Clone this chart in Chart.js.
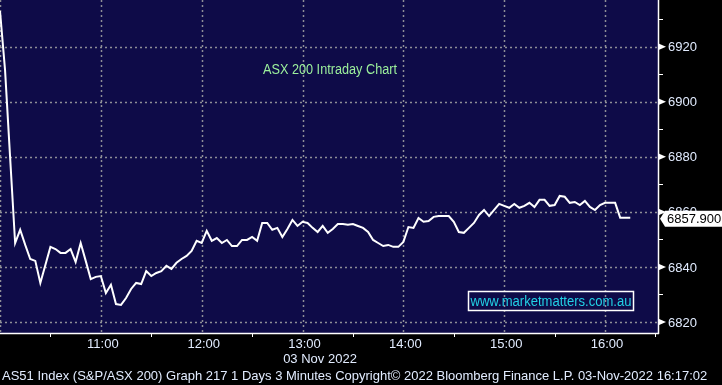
<!DOCTYPE html>
<html>
<head>
<meta charset="utf-8">
<script src="https://cdn.jsdelivr.net/npm/chart.js@4.4.1/dist/chart.umd.min.js"></script>
<style>
  html, body { margin: 0; padding: 0; background: #000; }
  canvas { display: block; }
</style>
</head>
<body>
<canvas id="asxChart" width="722" height="385"></canvas>
<script>
// ASX 200 intraday, 3 minute bars from 10:00 (minutes after 10:00 on the x axis)
const intervalMinutes = 3;
const closes = [
  6933, 6911.6, 6880, 6848.7, 6853.5, 6848, 6842.9, 6842.2, 6834.2, 6840.7,
  6847.3, 6846.5, 6845.1, 6845.1, 6846.5, 6841.8, 6848.7, 6842.2, 6835.6, 6836.4,
  6836.7, 6830.5, 6833.5, 6826.5, 6826.2, 6828.7, 6832, 6834.2, 6833.8, 6838.5,
  6836.7, 6837.8, 6838.5, 6840.4, 6839.3, 6841.5, 6842.9, 6844, 6845.8, 6849.5,
  6848.7, 6853.1, 6849.5, 6850.5, 6848.7, 6849.8, 6847.6, 6847.6, 6849.8, 6849.8,
  6850.9, 6849.5, 6856, 6856, 6853.5, 6854.2, 6850.9, 6853.8, 6857.1, 6854.9,
  6856.4, 6856, 6854.2, 6852.7, 6854.9, 6852.4, 6853.8, 6855.6, 6855.6, 6855.3,
  6855.6, 6854.9, 6854.2, 6852.7, 6849.8, 6848.7, 6847.6, 6848, 6847.3, 6847.3,
  6849.1, 6854.5, 6854.2, 6857.8, 6856.4, 6856.7, 6858.2, 6858.5, 6858.5, 6858.5,
  6856.4, 6852.7, 6852.4, 6854.2, 6856, 6858.9, 6860.7, 6858.5, 6860.7, 6862.9,
  6862.2, 6861.5, 6862.9, 6861.5, 6862.2, 6863.3, 6861.8, 6864.4, 6864.4, 6862.2,
  6862.5, 6865.8, 6865.5, 6863.3, 6863.6, 6862.5, 6864, 6861.8, 6860.7, 6862.5,
  6863.3, 6863.3, 6863.3, 6857.9, 6857.9, 6857.9
];
const lastValue = 6857.9;

const yMajorTicks = [6820, 6840, 6860, 6880, 6900, 6920];
const yMinorTicks = [6830, 6850, 6870, 6890, 6910, 6930];
const xMajorTicks = [0, 60, 120, 180, 240, 300, 360];
const xTickLabels = ['', '11:00', '12:00', '13:00', '14:00', '15:00', '16:00'];
const xMinorTicks = [30, 90, 150, 210, 270, 330, 390];

const chartTitle = 'ASX 200 Intraday Chart';
const dateLabel = '03 Nov 2022';
const watermark = 'www.marketmatters.com.au';
const footer = 'AS51 Index (S&P/ASX 200) Graph 217 1 Days 3 Minutes Copyright\u00A9 2022 Bloomberg Finance L.P. 03-Nov-2022 16:17:02';

const points = closes.map((v, i) => ({ x: i * intervalMinutes, y: v }));

// draw text squeezed horizontally to a given width
function fitText(ctx, text, x, y, width, align) {
  const w = ctx.measureText(text).width;
  const s = Math.min(1, width / w);
  ctx.save();
  let left = x;
  if (align === 'center') left = x - (w * s) / 2;
  if (align === 'right') left = x - w * s;
  ctx.translate(left, y);
  ctx.scale(s, 1);
  ctx.textAlign = 'left';
  ctx.fillText(text, 0, 0);
  ctx.restore();
}

const bloombergFrame = {
  id: 'bloombergFrame',
  beforeDatasetsDraw(chart) {
    const { ctx, chartArea: a, scales: { x, y } } = chart;
    ctx.save();
    ctx.fillStyle = '#000000';
    ctx.fillRect(0, 0, chart.width, chart.height);
    ctx.fillStyle = '#0e0b48';
    ctx.fillRect(a.left, a.top, a.right - a.left, a.bottom - a.top);

    // dotted grid
    ctx.strokeStyle = '#8e8e96';
    ctx.lineWidth = 1.5;
    ctx.setLineDash([2, 3]);
    yMajorTicks.forEach(t => {
      const py = Math.round(y.getPixelForValue(t)) + 0.5;
      ctx.beginPath();
      ctx.moveTo(a.left, py);
      ctx.lineTo(a.right, py);
      ctx.stroke();
    });
    xMajorTicks.forEach(t => {
      const px = Math.round(x.getPixelForValue(t)) + 0.5;
      ctx.beginPath();
      ctx.moveTo(px, a.top);
      ctx.lineTo(px, a.bottom);
      ctx.stroke();
    });
    ctx.restore();

    // title inside plot
    ctx.save();
    ctx.fillStyle = '#9cf09c';
    ctx.font = '14px "Liberation Sans", Arial, sans-serif';
    ctx.textBaseline = 'middle';
    fitText(ctx, chartTitle, 263, 70, 134, 'left');
    ctx.restore();
  },
  afterDatasetsDraw(chart) {
    const { ctx, chartArea: a, scales: { x, y } } = chart;
    ctx.save();
    ctx.strokeStyle = '#ffffff';
    ctx.fillStyle = '#ffffff';
    ctx.lineWidth = 1.5;

    // axis lines
    ctx.beginPath();
    ctx.moveTo(a.right + 0.5, a.top);
    ctx.lineTo(a.right + 0.5, a.bottom + 1);
    ctx.moveTo(a.left, a.bottom + 0.5);
    ctx.lineTo(a.right + 1, a.bottom + 0.5);
    ctx.stroke();

    // minor ticks
    ctx.lineWidth = 1;
    ctx.beginPath();
    yMinorTicks.forEach(t => {
      const py = Math.round(y.getPixelForValue(t)) + 0.5;
      ctx.moveTo(a.right, py);
      ctx.lineTo(a.right + 5, py);
    });
    xMinorTicks.forEach(t => {
      const px = Math.round(x.getPixelForValue(t)) + 0.5;
      ctx.moveTo(px, a.bottom);
      ctx.lineTo(px, a.bottom + 4);
    });
    ctx.stroke();

    // major y ticks: small arrow + label
    ctx.font = '13px "Liberation Sans", Arial, sans-serif';
    ctx.textBaseline = 'middle';
    yMajorTicks.forEach(t => {
      const py = y.getPixelForValue(t);
      ctx.fillStyle = '#ffffff';
      ctx.beginPath();
      ctx.moveTo(a.right, py - 3.5);
      ctx.lineTo(a.right + 8, py);
      ctx.lineTo(a.right, py + 3.5);
      ctx.closePath();
      ctx.fill();
      ctx.fillStyle = '#e2ecff';
      ctx.textAlign = 'left';
      ctx.fillText(String(t), a.right + 10, py + 1);
    });

    // x labels
    ctx.fillStyle = '#e2ecff';
    ctx.textAlign = 'center';
    xMajorTicks.forEach((t, i) => {
      if (!xTickLabels[i]) return;
      ctx.fillText(xTickLabels[i], x.getPixelForValue(t) + 2, a.bottom + 11);
    });
    ctx.fillText(dateLabel, 320, a.bottom + 26);

    // footer
    fitText(ctx, footer, 2, 376, 718, 'left');

    // last value box
    const ly = y.getPixelForValue(lastValue) + 1;
    ctx.fillStyle = '#ffffff';
    ctx.beginPath();
    ctx.moveTo(a.right + 2, ly);
    ctx.lineTo(a.right + 7, ly - 8);
    ctx.lineTo(chart.width, ly - 8);
    ctx.lineTo(chart.width, ly + 8);
    ctx.lineTo(a.right + 7, ly + 8);
    ctx.closePath();
    ctx.fill();
    ctx.fillStyle = '#000000';
    ctx.textAlign = 'left';
    ctx.fillText(lastValue.toFixed(3), a.right + 9, ly + 1);

    // watermark box
    ctx.strokeStyle = '#ffffff';
    ctx.lineWidth = 1.5;
    ctx.strokeRect(468.5, 291.5, 165, 19);
    ctx.fillStyle = '#22d0e4';
    ctx.font = '14px "Liberation Sans", Arial, sans-serif';
    fitText(ctx, watermark, 551, 302, 161, 'center');
    ctx.restore();
  }
};

new Chart(document.getElementById('asxChart'), {
  type: 'line',
  data: {
    datasets: [{
      label: 'AS51',
      data: points,
      borderColor: '#ffffff',
      borderWidth: 2,
      pointRadius: 0,
      tension: 0,
      fill: false
    }]
  },
  options: {
    responsive: false,
    animation: false,
    devicePixelRatio: 1,
    layout: { padding: { left: 0, top: 0, right: 64, bottom: 52 } },
    plugins: {
      legend: { display: false },
      tooltip: { enabled: false }
    },
    scales: {
      x: { type: 'linear', min: 0, max: 391.5, display: false },
      y: { type: 'linear', min: 6816, max: 6937, display: false }
    }
  },
  plugins: [bloombergFrame]
});
</script>
</body>
</html>
